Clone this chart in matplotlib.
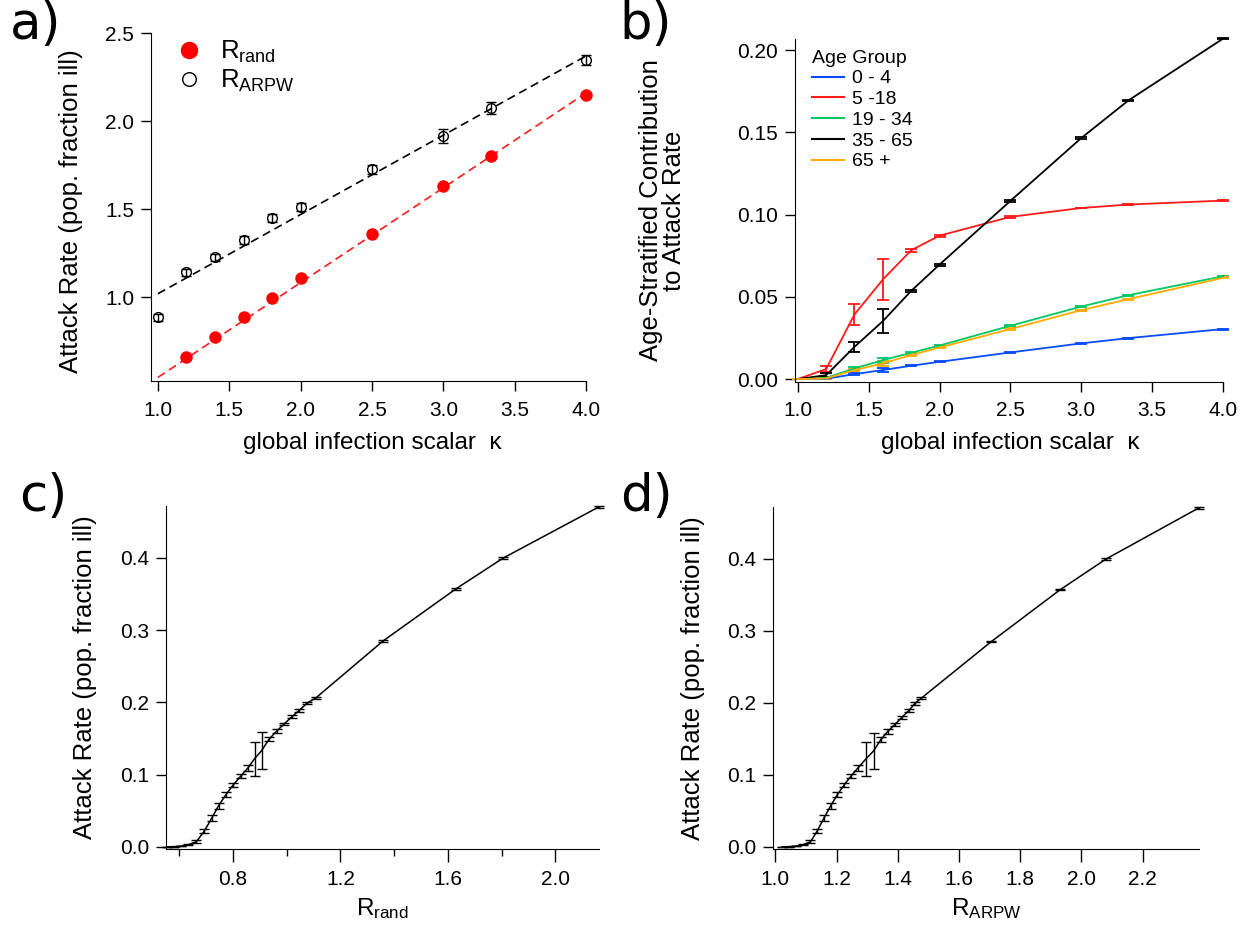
import numpy as np
import matplotlib
matplotlib.use("Agg")
import matplotlib.pyplot as plt
from matplotlib.lines import Line2D
from matplotlib.ticker import MultipleLocator, FormatStrFormatter

plt.rcParams['font.family'] = ['Liberation Sans', 'DejaVu Sans']
plt.rcParams['mathtext.fontset'] = 'custom'
plt.rcParams['mathtext.rm'] = 'Liberation Sans'
plt.rcParams['mathtext.it'] = 'Liberation Sans:italic'

# ---- panel a: R vs kappa
kappa = [1.0, 1.2, 1.4, 1.6, 1.8, 2.0, 2.5, 3.0, 3.333, 4.0]
kappa_rand = [1.2, 1.4, 1.6, 1.8, 2.0, 2.5, 3.0, 3.333, 4.0]
r_rand = [0.659, 0.773, 0.886, 0.994, 1.108, 1.358, 1.631, 1.801, 2.148]
r_arpw = [0.886, 1.142, 1.227, 1.324, 1.449, 1.511, 1.727, 1.915, 2.074, 2.347]
r_arpw_err = [0.02, 0.02, 0.02, 0.022, 0.022, 0.024, 0.026, 0.038, 0.035, 0.031]
fit_kappa = [1.0, 4.0]
rand_fit = [0.545, 2.16]
arpw_fit = [1.02, 2.37]

# ---- panel b: age stratified contribution
age_groups = ['0 - 4', '5 -18', '19 - 34', '35 - 65', '65 +']
age_colors = ['#0a4bff', '#ff1a1a', '#00c864', '#000000', '#ffaa00']
age_vals = [
    [0, 0.0002, 0.003, 0.0055, 0.0081, 0.0105, 0.0162, 0.0217, 0.0249, 0.0304],
    [0, 0.0061, 0.0393, 0.0605, 0.0783, 0.0872, 0.0986, 0.1040, 0.1061, 0.1085],
    [0, 0.0008, 0.0065, 0.0115, 0.0160, 0.0204, 0.0324, 0.0441, 0.0510, 0.0625],
    [0, 0.0024, 0.0196, 0.0352, 0.0536, 0.0696, 0.1083, 0.1465, 0.1694, 0.2069],
    [0, 0.0004, 0.0055, 0.0095, 0.0146, 0.0192, 0.0304, 0.0419, 0.0486, 0.0615],
]
age_errs = [
    [0, 0.0003, 0.0005, 0.001, 0.0004, 0.0004, 0.0003, 0.0003, 0.0003, 0.0003],
    [0, 0.002, 0.0062, 0.0125, 0.0008, 0.0006, 0.0004, 0.0003, 0.0003, 0.0003],
    [0, 0.0004, 0.0008, 0.0015, 0.0005, 0.0005, 0.0004, 0.0003, 0.0003, 0.0003],
    [0, 0.001, 0.003, 0.0072, 0.0008, 0.0006, 0.0005, 0.0004, 0.0004, 0.0004],
    [0, 0.0003, 0.0008, 0.0015, 0.0005, 0.0005, 0.0004, 0.0003, 0.0003, 0.0003],
]

# ---- panels c, d: attack rate vs R
r_rand_fine = [0.553, 0.580, 0.606, 0.633, 0.663, 0.693, 0.721, 0.746, 0.774, 0.801,
               0.829, 0.855, 0.880, 0.906, 0.934, 0.962, 0.990, 1.019, 1.047, 1.076,
               1.108, 1.359, 1.630, 1.806, 2.163]
r_arpw_fine = [1.022, 1.045, 1.068, 1.091, 1.115, 1.137, 1.159, 1.181, 1.203, 1.225,
               1.247, 1.269, 1.296, 1.321, 1.345, 1.367, 1.391, 1.414, 1.436, 1.456,
               1.476, 1.706, 1.931, 2.081, 2.384]
attack = [0.0, 0.0003, 0.001, 0.003, 0.007, 0.022, 0.040, 0.057, 0.0725, 0.086,
          0.098, 0.109, 0.122, 0.133, 0.149, 0.160, 0.170, 0.180, 0.189, 0.199,
          0.206, 0.285, 0.357, 0.3996, 0.4705]
attack_err = [0, 0, 0.0005, 0.001, 0.002, 0.003, 0.004, 0.004, 0.003, 0.003,
              0.003, 0.004, 0.0235, 0.0253, 0.003, 0.003, 0.002, 0.002, 0.002, 0.002,
              0.0015, 0.001, 0.001, 0.001, 0.001]

TICK = 15
XLAB = 17.5
YLAB = 18.5

fig = plt.figure(figsize=(12.47, 9.30), dpi=100)
ax_a = fig.add_axes([0.1210, 0.590, 0.3490, 0.3745])
ax_b = fig.add_axes([0.6375, 0.5892, 0.3432, 0.3688])
ax_c = fig.add_axes([0.1331, 0.0871, 0.3473, 0.3688])
ax_d = fig.add_axes([0.620, 0.0871, 0.3415, 0.3677])

for ax in (ax_a, ax_b, ax_c, ax_d):
    ax.spines['top'].set_visible(False)
    ax.spines['right'].set_visible(False)
    ax.tick_params(direction='out', length=7, width=1, labelsize=TICK, pad=5)
    ax.tick_params(axis='x', pad=7)
    ax.tick_params(which='minor', direction='out', length=5, width=1)

# a
ax_a.plot(fit_kappa, rand_fit, '--', color='#ff1a1a', lw=1.2, dashes=(5, 3))
ax_a.plot(fit_kappa, arpw_fit, '--', color='black', lw=1.2, dashes=(5, 3))
h1, = ax_a.plot(kappa_rand, r_rand, 'o', color='#ff0000', ms=9, mec='none', clip_on=False)
ax_a.errorbar(kappa, r_arpw, yerr=r_arpw_err, fmt='none', ecolor='black', elinewidth=1,
              capsize=3.5, capthick=1, clip_on=False)
h2, = ax_a.plot(kappa, r_arpw, 'o', mfc='none', mec='black', ms=7, mew=1, clip_on=False)
ax_a.set_xlim(0.951, 4.0)
ax_a.set_ylim(0.523, 2.5)
ax_a.xaxis.set_major_locator(MultipleLocator(0.5))
ax_a.yaxis.set_major_locator(MultipleLocator(0.5))
ax_a.xaxis.set_major_formatter(FormatStrFormatter('%.1f'))
ax_a.yaxis.set_major_formatter(FormatStrFormatter('%.1f'))
ax_a.set_xlabel('global infection scalar  κ', fontsize=XLAB)
ax_a.set_ylabel('Attack Rate (pop. fraction ill)', fontsize=YLAB)
ax_a.xaxis.set_label_coords(0.508, -0.145)
ax_a.yaxis.set_label_coords(-0.155, 0.49)
ax_a.legend([h1, h2], [r'R$_{\rm rand}$', r'R$_{\rm ARPW}$'], loc='upper left',
            bbox_to_anchor=(0.0, 1.05), frameon=False, fontsize=18.5,
            markerscale=1.4, handlelength=1.2, handletextpad=0.6, labelspacing=0.1)

# b
for vals, errs, col, lab in zip(age_vals, age_errs, age_colors, age_groups):
    ax_b.errorbar(kappa, vals, yerr=errs, color=col, lw=1.3, elinewidth=1.3,
                  capsize=4, capthick=1.3, label=lab, clip_on=False)
ax_b.set_xlim(0.98, 4.0)
ax_b.set_ylim(-0.0018, 0.2067)
ax_b.xaxis.set_major_locator(MultipleLocator(0.5))
ax_b.yaxis.set_major_locator(MultipleLocator(0.05))
ax_b.xaxis.set_major_formatter(FormatStrFormatter('%.1f'))
ax_b.yaxis.set_major_formatter(FormatStrFormatter('%.2f'))
ax_b.set_xlabel('global infection scalar  κ', fontsize=XLAB)
ax_b.set_ylabel('Age-Stratified Contribution\nto Attack Rate', fontsize=YLAB, linespacing=0.95)
ax_b.xaxis.set_label_coords(0.502, -0.145)
ax_b.yaxis.set_label_coords(-0.255, 0.5)
lb = age_groups
hb = [Line2D([], [], color=c, lw=1.5) for c in age_colors]
ax_b.legend(hb, lb, title='Age Group', loc='upper left', bbox_to_anchor=(0.0, 1.02),
            frameon=False, fontsize=14, title_fontsize=14, alignment='left',
            handlelength=1.6, handletextpad=0.45, labelspacing=0.16)

# c, d
for ax, xs, xl in ((ax_c, r_rand_fine, r'R$_{\rm rand}$'), (ax_d, r_arpw_fine, r'R$_{\rm ARPW}$')):
    ax.errorbar(xs, attack, yerr=attack_err, color='black', lw=1.1, elinewidth=1,
                capsize=3.5, capthick=1, clip_on=False)
    ax.set_ylim(-0.003, 0.4716)
    ax.yaxis.set_major_locator(MultipleLocator(0.1))
    ax.yaxis.set_major_formatter(FormatStrFormatter('%.1f'))
    ax.set_xlabel(xl, fontsize=XLAB)
    ax.set_ylabel('Attack Rate (pop. fraction ill)', fontsize=YLAB)
    ax.yaxis.set_label_coords(-0.16, 0.5)
    ax.xaxis.set_label_coords(0.5, -0.138)
    ax.tick_params(axis='x', which='major', length=9, pad=6)

ax_c.set_xlim(0.55, 2.163)
ax_c.xaxis.set_major_locator(MultipleLocator(0.4))
ax_c.xaxis.set_minor_locator(MultipleLocator(0.2))
ax_c.xaxis.set_major_formatter(FormatStrFormatter('%.1f'))

ax_d.set_xlim(0.993, 2.384)
ax_d.xaxis.set_major_locator(MultipleLocator(0.2))
ax_d.xaxis.set_major_formatter(FormatStrFormatter('%.1f'))

# panel letters
for txt, x, y in (('a)', 0.008, 1.0), ('b)', 0.497, 1.0), ('c)', 0.015, 0.492), ('d)', 0.497, 0.492)):
    fig.text(x, y, txt, fontsize=37, family='DejaVu Sans', va='top', ha='left')

fig.savefig('out.png', dpi=100)
